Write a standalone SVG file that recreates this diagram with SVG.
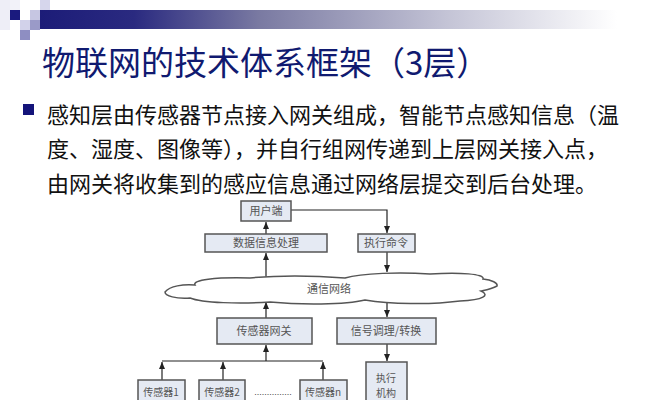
<svg xmlns="http://www.w3.org/2000/svg" width="667" height="400" viewBox="0 0 667 400">
<defs>
<linearGradient id="bar" x1="0" y1="0" x2="1" y2="0">
<stop offset="0" stop-color="#1c1c78"/>
<stop offset="0.15" stop-color="#2a2a80"/>
<stop offset="0.35" stop-color="#7a7aa2"/>
<stop offset="0.65" stop-color="#c4c4d6"/>
<stop offset="0.92" stop-color="#ffffff"/>
</linearGradient>
<marker id="ah" markerWidth="8" markerHeight="8" refX="7" refY="4" orient="auto" markerUnits="userSpaceOnUse">
<path d="M0,1 L7,4 L0,7 Z" fill="#222"/>
</marker>
<style>
.box{fill:#e5eaf3;stroke:#555;stroke-width:1.5}
.bt{font-family:"Noto Sans CJK SC","Noto Sans",sans-serif;font-size:11px;fill:#555;text-anchor:middle}
.st{font-size:10px}
.con{fill:none;stroke:#222;stroke-width:1.2}
.arr{fill:none;stroke:#222;stroke-width:1.2;marker-end:url(#ah)}
.body{font-family:"Noto Sans CJK SC","Liberation Sans",sans-serif;font-size:22px;fill:#111}
</style>
</defs>
<rect width="667" height="400" fill="#fff"/>
<!-- header decoration -->
<g id="header">
<rect x="40" y="10" width="627" height="19" fill="url(#bar)"/>
<rect x="0" y="0" width="10" height="30" fill="#eeeef7"/>
<rect x="10" y="0" width="10" height="10" fill="#f2f2f9"/>
<rect x="10" y="10" width="10" height="10" fill="#1a1a7e"/>
<rect x="30" y="10" width="10" height="10" fill="#c6c6e2"/>
<rect x="40" y="0" width="10" height="10" fill="#d6d6ec"/>
<rect x="20" y="20" width="10" height="10" fill="#d2d2ea"/>
<rect x="30" y="20" width="10" height="10" fill="#9a9ac8"/>
<rect x="20" y="30" width="10" height="10" fill="#8e8ec2"/>
</g>
<text id="title" x="42" y="75" font-family="'Noto Sans CJK SC','Liberation Sans',sans-serif" font-size="33" fill="#101a70">物联网的技术体系框架（3层）</text>
<g id="bullet">
<rect x="23" y="104" width="11" height="11" fill="#14147a"/>
<text class="body" x="47" y="123">感知层由传感器节点接入网关组成，智能节点感知信息（温</text>
<text class="body" x="47" y="157">度、湿度、图像等），并自行组网传递到上层网关接入点，</text>
<text class="body" x="47" y="192">由网关将收集到的感应信息通过网络层提交到后台处理。</text>
</g>
<!-- diagram -->
<g id="connectors">
<line class="arr" x1="266" y1="234" x2="266" y2="222"/>
<line class="arr" x1="266" y1="278" x2="266" y2="253"/>
<polyline class="arr" points="291,210 387,210 387,233"/>
<line class="arr" x1="387" y1="252" x2="387" y2="272"/>
<line class="arr" x1="266" y1="318" x2="266" y2="302"/>
<line class="arr" x1="387" y1="302" x2="387" y2="317"/>
<line class="arr" x1="387" y1="344" x2="387" y2="361"/>
<line class="con" x1="162" y1="361" x2="323" y2="361"/>
<line class="arr" x1="266" y1="361" x2="266" y2="345"/>
<line class="arr" x1="162" y1="380" x2="162" y2="362"/>
<line class="arr" x1="223" y1="380" x2="223" y2="362"/>
<line class="arr" x1="323" y1="380" x2="323" y2="362"/>
</g>
<g id="cloud">
<path d="M165 292 C170 286,183 284,195 285 C192 280,215 277,250 278 C280 275,320 276,345 278 C362 273,400 272,430 274 C460 272,485 274,483 279 C492 280,498 283,497 286 C492 289,486 290,481 291 C490 295,484 300,460 301 C430 305,390 304,365 300 C345 305,300 305,270 302 C240 304,202 303,190 298 C176 299,165 296,165 292 Z" fill="#fff" stroke="#555" stroke-width="1.5"/>
<text class="bt" x="329" y="293">通信网络</text>
</g>
<g id="n-user"><rect class="box" x="241" y="201" width="50" height="20"/><text class="bt" x="266" y="215">用户端</text></g>
<g id="n-data"><rect class="box" x="205" y="234" width="122" height="18"/><text class="bt" x="266" y="247">数据信息处理</text></g>
<g id="n-cmd"><rect class="box" x="358" y="234" width="57" height="18"/><text class="bt" x="386" y="247">执行命令</text></g>
<g id="n-gw"><rect class="box" x="217" y="318" width="95" height="26"/><text class="bt" x="264" y="335">传感器网关</text></g>
<g id="n-sig"><rect class="box" x="337" y="318" width="99" height="26"/><text class="bt" x="386" y="335">信号调理/转换</text></g>
<g id="n-act"><rect class="box" x="366" y="362" width="41" height="45"/><text class="bt st" x="386" y="382">执行</text><text class="bt st" x="386" y="397">机构</text></g>
<g id="n-s1"><rect class="box" x="138" y="380" width="47" height="26"/><text class="bt st" x="161" y="396">传感器1</text></g>
<g id="n-s2"><rect class="box" x="199" y="380" width="46" height="26"/><text class="bt st" x="222" y="396">传感器2</text></g>
<g id="n-sn"><rect class="box" x="300" y="380" width="47" height="26"/><text class="bt st" x="323" y="396">传感器n</text></g>
<text x="273" y="395" font-family="'Liberation Sans',sans-serif" font-size="9" fill="#444" text-anchor="middle">...............</text>
</svg>
